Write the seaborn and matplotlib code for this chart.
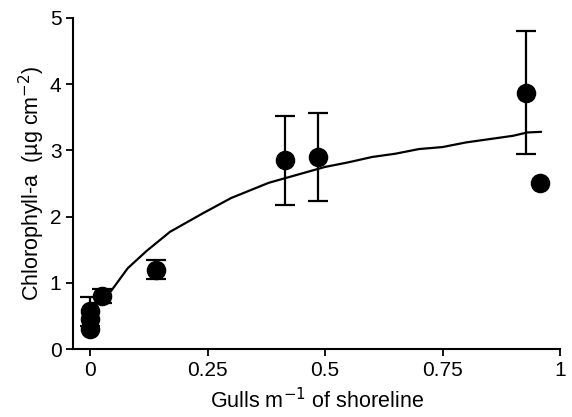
import numpy as np
import pandas as pd
import matplotlib
matplotlib.use("Agg")
import matplotlib.pyplot as plt
import seaborn as sns

# observed points
gulls = [0.0, 0.0, 0.0, 0.025, 0.14, 0.415, 0.485, 0.927, 0.958]
chl = [0.30, 0.45, 0.57, 0.80, 1.20, 2.85, 2.90, 3.87, 2.50]
err = [0.0, 0.0, 0.22, 0.10, 0.15, 0.67, 0.66, 0.93, 0.0]

# fitted curve
fit_x = [0.02, 0.045, 0.08, 0.12, 0.17, 0.24, 0.30, 0.38, 0.45, 0.50, 0.55,
         0.60, 0.65, 0.70, 0.75, 0.80, 0.85, 0.90, 0.93, 0.96]
fit_y = [0.72, 0.88, 1.22, 1.48, 1.77, 2.05, 2.28, 2.51, 2.65, 2.75, 2.82,
         2.90, 2.95, 3.02, 3.05, 3.12, 3.17, 3.22, 3.27, 3.28]

pts = pd.DataFrame({"gulls": gulls, "chl": chl, "err": err})
fit = pd.DataFrame({"x": fit_x, "y": fit_y})

sns.set_style("ticks")
plt.rcParams["font.family"] = ["Liberation Sans", "DejaVu Sans"]
plt.rcParams["text.color"] = "black"
plt.rcParams["axes.labelcolor"] = "black"
plt.rcParams["xtick.color"] = "black"
plt.rcParams["ytick.color"] = "black"

fig = plt.figure(figsize=(5.72, 4.17), dpi=100)
ax = fig.add_axes([0.128, 0.163, 0.851, 0.794])

sns.lineplot(data=fit, x="x", y="y", color="black", lw=1.6, ax=ax)
eb = pts[pts.err > 0]
ax.errorbar(eb.gulls, eb.chl, yerr=eb.err, fmt="none", ecolor="black",
            elinewidth=1.6, capsize=7, capthick=1.6)
sns.scatterplot(data=pts, x="gulls", y="chl", color="black", s=170,
                edgecolor="black", zorder=5, ax=ax)

ax.set_xlim(-0.036, 1.0)
ax.set_ylim(0, 5)
ax.set_xticks([0, 0.25, 0.5, 0.75, 1])
ax.set_xticklabels(["0", "0.25", "0.5", "0.75", "1"])
ax.set_yticks([0, 1, 2, 3, 4, 5])
ax.tick_params(labelsize=15, width=1.3, length=5, colors="black")
for s in ["left", "bottom"]:
    ax.spines[s].set_linewidth(1.5)
    ax.spines[s].set_color("black")
sns.despine(ax=ax)
ax.set_xlabel("Gulls m$^{-1}$ of shoreline", fontsize=15.5, labelpad=6, color="black")
ax.set_ylabel("Chlorophyll-a  (\u00b5g cm$^{-2}$)", fontsize=15.5, labelpad=2, color="black")

fig.savefig("out.png", dpi=100)
